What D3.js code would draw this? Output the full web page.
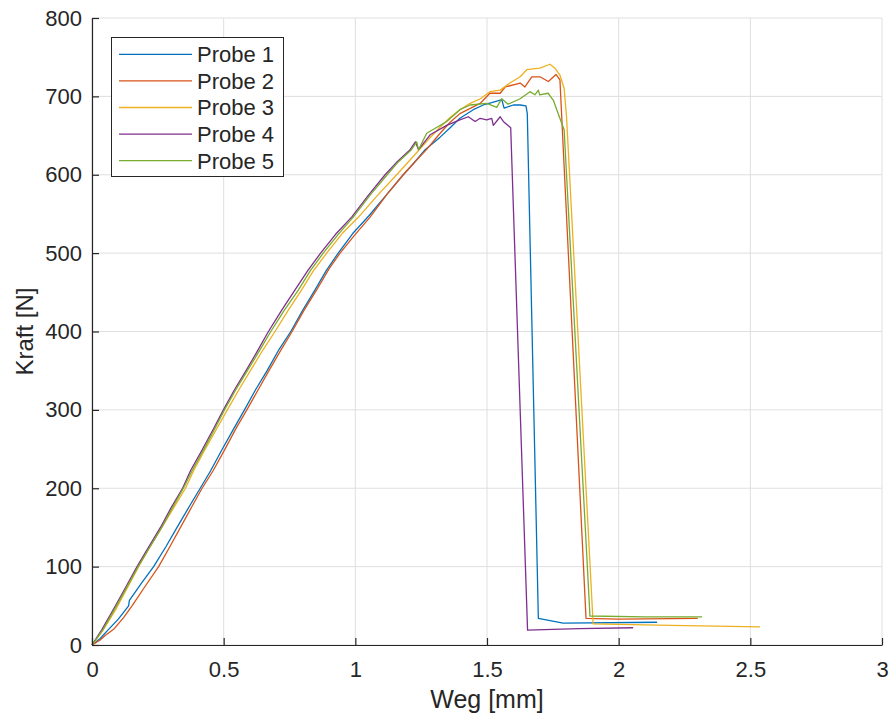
<!DOCTYPE html>
<html>
<head>
<meta charset="utf-8">
<script src="https://cdn.jsdelivr.net/npm/d3@7"></script>
<style>
  body { margin: 0; background: #fff; }
  text { font-family: "Liberation Sans", Arial, sans-serif; fill: #262626; }
</style>
</head>
<body>
<svg id="chart" width="889" height="715"></svg>
<script>
// Weg [mm] / Kraft [N], one pair of arrays per Probe
const weg1 = [0, 0.03, 0.063, 0.1, 0.139, 0.142, 0.19, 0.234, 0.28, 0.323, 0.37, 0.411, 0.45, 0.495, 0.54, 0.579, 0.62, 0.665, 0.71, 0.755, 0.8, 0.847, 0.89, 0.935, 0.99, 1.05, 1.115, 1.182, 1.22, 1.265, 1.322, 1.36, 1.397, 1.448, 1.486, 1.518, 1.556, 1.565, 1.6, 1.626, 1.648, 1.653, 1.695, 1.789, 2.146];
const kraft1 = [0, 8, 20, 33, 50, 57, 80, 100, 125, 150, 177, 200, 222, 250, 277, 300, 325, 350, 377, 400, 427, 453, 478, 500, 525, 547, 573, 600, 614, 632, 648, 660, 672, 683, 689, 692, 696, 685, 689, 689, 688, 678, 34, 28, 29];

const weg2 = [0, 0.03, 0.05, 0.082, 0.12, 0.152, 0.2, 0.253, 0.295, 0.336, 0.38, 0.418, 0.461, 0.505, 0.548, 0.588, 0.63, 0.672, 0.715, 0.76, 0.805, 0.853, 0.9, 0.942, 0.995, 1.056, 1.12, 1.182, 1.225, 1.27, 1.322, 1.36, 1.397, 1.474, 1.511, 1.55, 1.569, 1.626, 1.644, 1.67, 1.701, 1.733, 1.762, 1.777, 1.876, 2.0, 2.3];
const kraft2 = [0, 6, 12, 20, 35, 50, 74, 100, 125, 150, 177, 200, 223, 250, 277, 300, 325, 350, 375, 400, 427, 453, 480, 500, 522, 546, 575, 600, 616, 632, 653, 667, 678, 691, 704, 704, 712, 717, 712, 725, 725, 719, 728, 721, 34, 33, 34];

const weg3 = [0, 0.04, 0.09, 0.177, 0.22, 0.265, 0.31, 0.355, 0.387, 0.43, 0.472, 0.514, 0.56, 0.605, 0.65, 0.695, 0.745, 0.796, 0.84, 0.891, 0.95, 1.012, 1.085, 1.157, 1.2, 1.24, 1.28, 1.322, 1.36, 1.397, 1.436, 1.475, 1.511, 1.55, 1.587, 1.626, 1.651, 1.701, 1.739, 1.758, 1.777, 1.793, 1.802, 1.903, 2.2, 2.537];
const kraft3 = [0, 18, 45, 100, 125, 150, 175, 200, 223, 250, 275, 300, 327, 352, 377, 400, 427, 453, 477, 500, 525, 546, 574, 600, 616, 631, 646, 661, 673, 683, 691, 697, 706, 708, 717, 725, 734, 736, 741, 736, 727, 710, 674, 27, 25, 23];

const weg4 = [0, 0.038, 0.089, 0.13, 0.171, 0.215, 0.26, 0.3, 0.344, 0.375, 0.42, 0.46, 0.499, 0.54, 0.585, 0.628, 0.67, 0.72, 0.771, 0.82, 0.868, 0.925, 0.986, 1.05, 1.113, 1.16, 1.208, 1.228, 1.24, 1.284, 1.347, 1.397, 1.429, 1.455, 1.474, 1.499, 1.518, 1.524, 1.55, 1.562, 1.59, 1.654, 1.75, 1.85, 2.055];
const kraft4 = [0, 20, 50, 75, 100, 125, 150, 175, 200, 223, 250, 275, 300, 325, 350, 375, 400, 427, 453, 478, 500, 524, 546, 574, 600, 617, 632, 642, 632, 651, 663, 670, 674, 668, 672, 670, 672, 663, 674, 668, 660, 19, 20, 21, 22];

const weg5 = [0, 0.042, 0.093, 0.134, 0.175, 0.22, 0.265, 0.305, 0.347, 0.381, 0.425, 0.465, 0.503, 0.545, 0.59, 0.635, 0.679, 0.73, 0.784, 0.83, 0.878, 0.935, 0.992, 1.056, 1.121, 1.165, 1.213, 1.233, 1.24, 1.271, 1.347, 1.397, 1.436, 1.499, 1.537, 1.556, 1.58, 1.626, 1.663, 1.682, 1.695, 1.7, 1.732, 1.752, 1.765, 1.793, 1.891, 2.1, 2.317];
const kraft5 = [0, 20, 50, 75, 100, 125, 150, 175, 200, 223, 250, 275, 300, 325, 350, 375, 400, 427, 453, 478, 500, 524, 546, 574, 600, 617, 632, 642, 632, 653, 668, 683, 689, 691, 686, 697, 690, 697, 706, 702, 708, 702, 704, 695, 683, 657, 37, 36, 36];

const names = ["Probe 1", "Probe 2", "Probe 3", "Probe 4", "Probe 5"];
const colors = ["#0072BD", "#D95319", "#EDB120", "#7E2F8E", "#77AC30"];
const xTicks = [0, 0.5, 1, 1.5, 2, 2.5, 3];
const yTicks = [0, 100, 200, 300, 400, 500, 600, 700, 800];

const series = [[weg1, kraft1], [weg2, kraft2], [weg3, kraft3], [weg4, kraft4], [weg5, kraft5]]
    .map((s, i) => ({ name: names[i], color: colors[i], pts: s[0].map((w, j) => [w, s[1][j]]) }));

const margin = { left: 92, right: 7, top: 18, bottom: 70 };
const W = 889, H = 715;
const svg = d3.select("#chart");

const x = d3.scaleLinear().domain([0, 3]).range([margin.left, W - margin.right]);
const y = d3.scaleLinear().domain([0, 800]).range([H - margin.bottom, margin.top]);

// grid
svg.append("g").selectAll("line").data(xTicks).enter().append("line")
    .attr("x1", d => x(d)).attr("x2", d => x(d))
    .attr("y1", y(0)).attr("y2", y(800))
    .style("stroke", "#dfdfdf").style("stroke-width", 1);
svg.append("g").selectAll("line").data(yTicks).enter().append("line")
    .attr("x1", x(0)).attr("x2", x(3))
    .attr("y1", d => y(d)).attr("y2", d => y(d))
    .style("stroke", "#dfdfdf").style("stroke-width", 1);

// lines
const line = d3.line().x(d => x(d[0])).y(d => y(d[1]));
svg.append("g").selectAll("path").data(series).enter().append("path")
    .attr("d", d => line(d.pts))
    .style("fill", "none")
    .style("stroke", d => d.color)
    .style("stroke-width", 1.3)
    .style("stroke-linejoin", "round");

// axes (ticks pointing inward like matlab)
const xAxis = svg.append("g").attr("transform", "translate(0," + y(0) + ")")
    .call(d3.axisBottom(x).tickValues(xTicks).tickSizeInner(-7).tickSizeOuter(0).tickPadding(16).tickFormat(d3.format("")));
const yAxis = svg.append("g").attr("transform", "translate(" + x(0) + ",0)")
    .call(d3.axisLeft(y).tickValues(yTicks).tickSizeInner(-7).tickSizeOuter(0).tickPadding(10));
[xAxis, yAxis].forEach(a => {
    a.select(".domain").style("stroke", "#262626").style("stroke-width", 1.2);
    a.selectAll(".tick line").style("stroke", "#262626").style("stroke-width", 1.2);
    a.selectAll(".tick text").style("font-size", "22px").style("font-family", "Liberation Sans, Arial, sans-serif").style("fill", "#262626");
});

// axis titles
svg.append("text").attr("x", x(1.5)).attr("y", 708)
    .style("text-anchor", "middle").style("font-size", "25px").text("Weg [mm]");
svg.append("text").attr("transform", "translate(33," + y(400) + ") rotate(-90)")
    .style("text-anchor", "middle").style("font-size", "24px").text("Kraft [N]");

// legend
const lg = svg.append("g");
lg.append("rect").attr("x", 111.5).attr("y", 37.5).attr("width", 172).attr("height", 139)
    .style("fill", "#fff").style("stroke", "#262626").style("stroke-width", 1);
const rows = lg.selectAll("g.row").data(series).enter().append("g")
    .attr("transform", (d, i) => "translate(0," + (54.3 + i * 26.6) + ")");
rows.append("line").attr("x1", 119).attr("x2", 192).attr("y1", 0).attr("y2", 0)
    .style("stroke", d => d.color).style("stroke-width", 1.3);
rows.append("text").attr("x", 197).attr("y", 0).attr("dy", "0.36em")
    .style("font-size", "22px").text(d => d.name);
</script>
</body>
</html>
